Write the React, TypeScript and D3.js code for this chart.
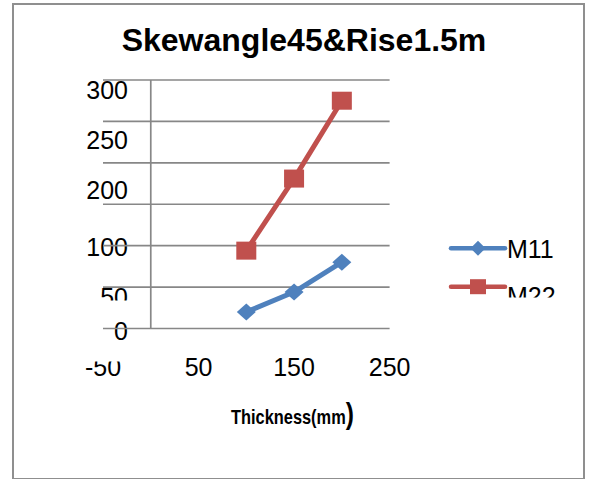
import React from "react";
import * as d3 from "d3";

// Series data (thickness in mm vs. moment)
const thickness = [100, 150, 200];
const m11 = [20, 44, 80];
const m22 = [94, 181, 275];

// Axis tick labels
const yGridValues = [0, 50, 100, 150, 200, 250, 300];
const yTickLabels = [300, 250, 200, 100, 50, 0];
const xTickLabels = [-50, 50, 150, 250];

const seriesNames = ["M11", "M22"];

const W = 589;
const H = 479;
const FONT = "'Liberation Sans', Arial, sans-serif";
const BLUE = "#4F81BD";
const RED = "#C0504D";
const GRID = "#878787";

export default function App() {
  const x = d3.scaleLinear().domain([-50, 250]).range([103, 389.6]);
  const y = d3.scaleLinear().domain([0, 300]).range([328.5, 80]);
  // baseline positions for the value-axis labels
  const tickLabelY = d3
    .scaleLinear()
    .domain([0, 50, 100, 200, 250, 300])
    .range([339.5, 305.5, 255.5, 198.5, 148.5, 99]);

  const line = d3
    .line<number>()
    .x((_, i) => x(thickness[i]))
    .y((d) => y(d));

  const diamond = (w: number, h: number) =>
    `M0,${-h / 2}L${w / 2},0L0,${h / 2}L${-w / 2},0Z`;

  return (
    <svg
      width={W}
      height={H}
      style={{ position: "absolute", left: 0, top: 0, background: "#fff" }}
      fontFamily={FONT}
    >
      <defs>
        <clipPath id="clip-y50">
          <rect x={0} y={0} width={W} height={300.5} />
        </clipPath>
        <clipPath id="clip-xneg">
          <rect x={0} y={361.5} width={W} height={H} />
        </clipPath>
        <clipPath id="clip-leg">
          <rect x={0} y={0} width={W} height={297.5} />
        </clipPath>
      </defs>

      {/* chart frame */}
      <rect x={13} y={4} width={571} height={475} fill="#fff" stroke="#8f8f8f" strokeWidth={2} />

      {/* title */}
      <text x={304} y={51} textAnchor="middle" fontSize={32} fontWeight="bold" fill="#000">
        Skewangle45&amp;Rise1.5m
      </text>

      {/* value-axis labels */}
      {yTickLabels.map((v) => (
        <text
          key={`yl${v}`}
          x={128}
          y={tickLabelY(v)}
          textAnchor="end"
          fontSize={25}
          fill="#000"
          clipPath={v === 50 ? "url(#clip-y50)" : undefined}
        >
          {v}
        </text>
      ))}

      {/* category-axis labels */}
      {xTickLabels.map((v) => (
        <text
          key={`xl${v}`}
          x={x(v)}
          y={375.5}
          textAnchor="middle"
          fontSize={25}
          fill="#000"
          clipPath={v < 0 ? "url(#clip-xneg)" : undefined}
        >
          {v}
        </text>
      ))}

      {/* gridlines */}
      {yGridValues.map((v) => (
        <line
          key={`g${v}`}
          x1={x(-50)}
          x2={x(250)}
          y1={y(v)}
          y2={y(v)}
          stroke={GRID}
          strokeWidth={1.7}
        />
      ))}
      {/* vertical axis at x = 0 */}
      <line x1={x(0)} x2={x(0)} y1={y(300)} y2={y(0)} stroke={GRID} strokeWidth={1.7} />

      {/* M22 series */}
      <path d={line(m22) || ""} fill="none" stroke={RED} strokeWidth={5} strokeLinejoin="round" />
      {m22.map((v, i) => (
        <rect key={`s${i}`} x={x(thickness[i]) - 10} y={y(v) - 9} width={20} height={18} fill={RED} />
      ))}

      {/* M11 series */}
      <path d={line(m11) || ""} fill="none" stroke={BLUE} strokeWidth={5} strokeLinejoin="round" />
      {m11.map((v, i) => (
        <path
          key={`d${i}`}
          d={diamond(19, 17)}
          transform={`translate(${x(thickness[i])},${y(v)})`}
          fill={BLUE}
        />
      ))}

      {/* axis title */}
      <text
        transform="translate(231,424) scale(0.82,1)"
        fontSize={20}
        fontWeight="bold"
        fill="#000"
      >
        Thickness(mm<tspan fontSize={30}>)</tspan>
      </text>

      {/* legend */}
      <g>
        <line x1={451} x2={505} y1={248.3} y2={248.3} stroke={BLUE} strokeWidth={4.5} strokeLinecap="round" />
        <path d={diamond(15, 15)} transform="translate(478,248.3)" fill={BLUE} />
        <text x={507} y={257.5} fontSize={25} fill="#000">
          {seriesNames[0]}
        </text>

        <line x1={451} x2={505} y1={286.7} y2={286.7} stroke={RED} strokeWidth={4.5} strokeLinecap="round" />
        <rect x={470} y={279.2} width={16} height={15} fill={RED} />
        <text x={507} y={304.5} fontSize={25} fill="#000" clipPath="url(#clip-leg)">
          {seriesNames[1]}
        </text>
      </g>
    </svg>
  );
}
